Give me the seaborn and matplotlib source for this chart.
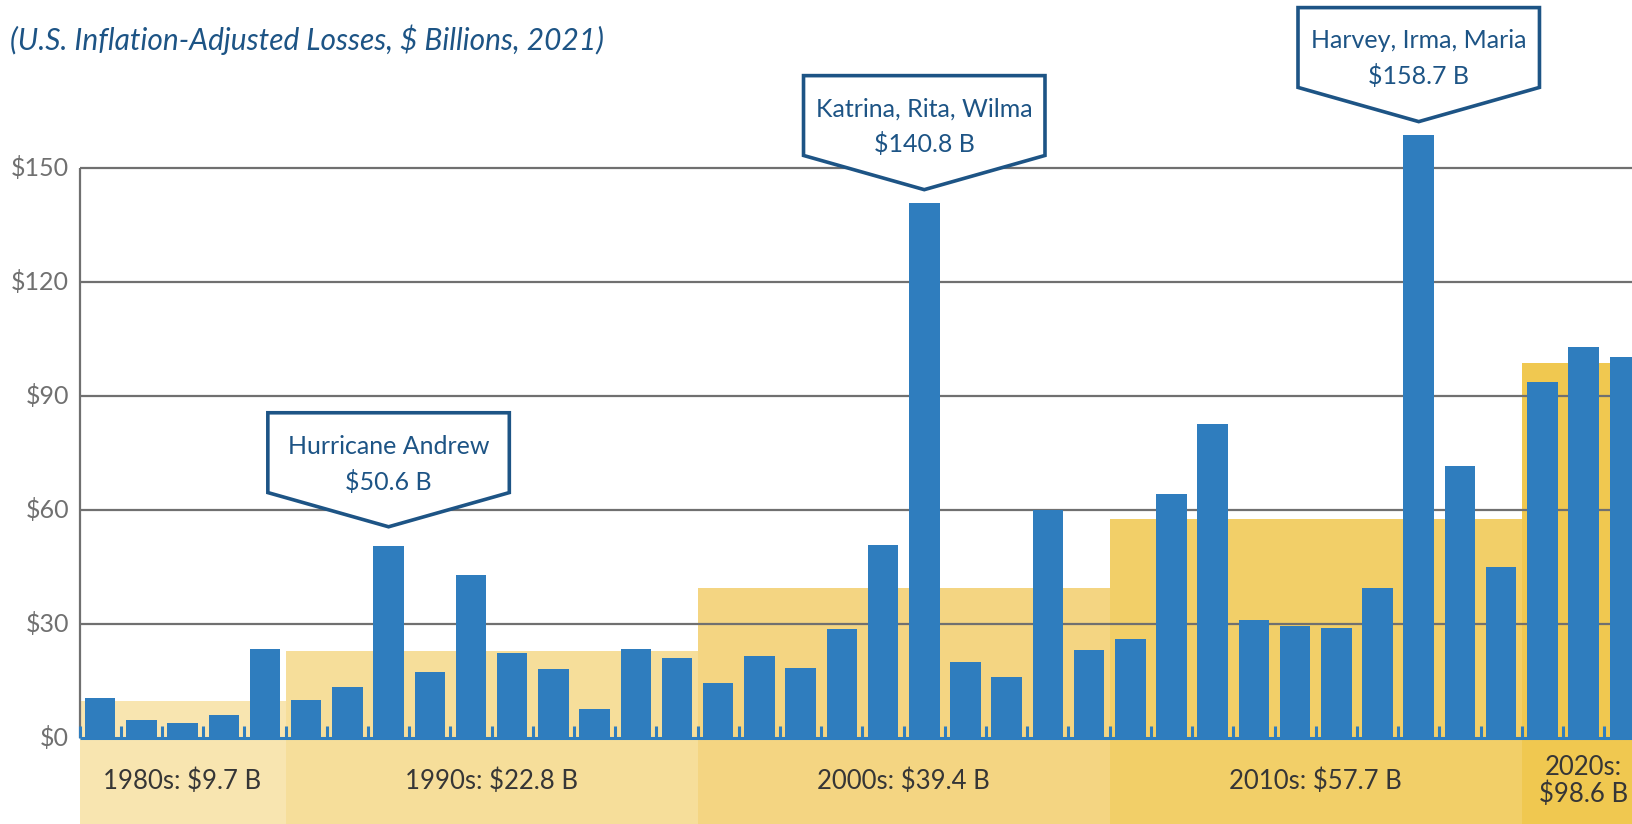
import matplotlib
matplotlib.use("Agg")
import matplotlib.pyplot as plt
from matplotlib.patches import Polygon, Rectangle
import numpy as np
import pandas as pd
import seaborn as sns

# data
years = list(range(1985, 2023))
losses = [10.5, 4.7, 3.9, 6.1, 23.4,
          9.9, 13.5, 50.6, 17.3, 42.9, 22.3, 18.2, 7.7, 23.4, 21.2,
          14.6, 21.5, 18.4, 28.6, 50.9, 140.8, 20.1, 16.2, 60.0, 23.1,
          26.1, 64.1, 82.6, 31.1, 29.5, 28.9, 39.4, 158.7, 71.6, 45.1,
          93.6, 102.9, 100.2]

decades = ["1980s", "1990s", "2000s", "2010s", "2020s"]
decade_avg = [9.7, 22.8, 39.4, 57.7, 98.6]
decade_labels = ["1980s: $9.7 B", "1990s: $22.8 B", "2000s: $39.4 B",
                 "2010s: $57.7 B", "2020s:\n$98.6 B"]
decade_colors = ["#F8E5B0", "#F6DE9A", "#F4D582", "#F2CF68", "#F0C850"]

callout_years = [1992, 2005, 2017]
callout_text = ["Hurricane Andrew\n$50.6 B", "Katrina, Rita, Wilma\n$140.8 B",
                "Harvey, Irma, Maria\n$158.7 B"]

yticks = [0, 30, 60, 90, 120, 150]

df = pd.DataFrame({"year": years, "loss": losses})
df["decade"] = (df["year"] // 10 * 10).astype(str) + "s"

sns.set_style("white")
plt.rcParams["font.family"] = ["Lato", "DejaVu Sans"]

BLUE = "#2F7DBE"
NAVY = "#1D5485"
GRID = "#707070"

fig = plt.figure(figsize=(16.33, 8.24), dpi=100)
ax = fig.add_axes([0, 0, 1, 1])
ymin, ymax = -22.6, 194.2

# decade bands (span bars of that decade, drop below the baseline for labels)
for d, avg, lab, col in zip(decades, decade_avg, decade_labels, decade_colors):
    idx = df.index[df["decade"] == d]
    x0, x1 = idx.min() - 0.5, idx.max() + 0.5
    ax.add_patch(Rectangle((x0, ymin), x1 - x0, avg - ymin, color=col, lw=0, zorder=0))
    ax.text((x0 + x1) / 2, -11.3, lab, ha="center", va="center", fontsize=18.5,
            color="#363636", linespacing=1.1, zorder=5)

# grid + left axis
ax.hlines(yticks[1:], -0.5, 40, color=GRID, lw=1.6, zorder=1)
ax.vlines(-0.5, 0, 150, color=GRID, lw=1.6, zorder=1)
for t in yticks:
    ax.text(-0.75, t, f"${t}", ha="right", va="center", fontsize=18,
            color="#707070")

# bars
sns.barplot(data=df, x=df.index, y="loss", color=BLUE, width=0.74,
            saturation=1, ax=ax, zorder=3, native_scale=True, linewidth=0,
            edgecolor=BLUE)
ax.set_xlim(-2.43, 37.2)
ax.set_ylim(ymin, ymax)
ax.axis("off")

# baseline with small notches between bars
ax.hlines(0, -0.5, 40, color=BLUE, lw=2.2, zorder=4)
ax.vlines(np.arange(-0.5, len(years)), 0, 3.2, color=BLUE, lw=2.2, zorder=4)

# callouts
for yr, txt in zip(callout_years, callout_text):
    i = years.index(yr)
    v = losses[i]
    off = 1.5 if yr == 1992 else 0
    tip, side, top = v + 3.5 + off, v + 12.5 + off, v + 33.5 + off
    hw = 2.93
    pts = [(i - hw, top), (i + hw, top), (i + hw, side), (i, tip), (i - hw, side)]
    ax.add_patch(Polygon(pts, closed=True, facecolor="white", edgecolor=NAVY,
                         lw=2.6, zorder=6, joinstyle="miter"))
    ax.text(i, (top + side) / 2 - 3.0, txt, ha="center", va="center",
            fontsize=18, color=NAVY, linespacing=1.6, zorder=7)

fig.text(0.006, 0.952, "(U.S. Inflation-Adjusted Losses, $ Billions, 2021)",
         fontsize=21.5, style="italic", color=NAVY, ha="left", va="center")

fig.savefig("out.png", dpi=100)
